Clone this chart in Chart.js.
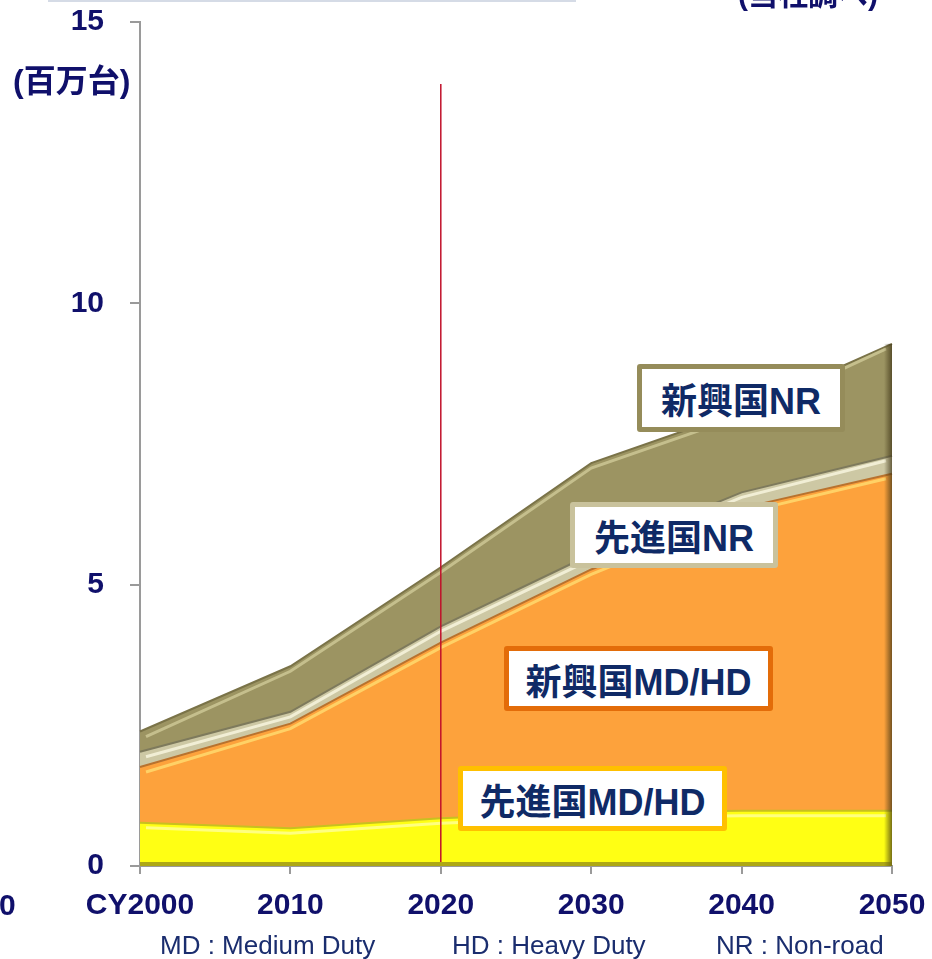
<!DOCTYPE html>
<html>
<head>
<meta charset="utf-8">
<script src="https://cdn.jsdelivr.net/npm/chart.js@4.4.1/dist/chart.umd.min.js"></script>
<style>
  html, body { margin: 0; padding: 0; background: #fff; }
  #wrap { position: relative; width: 932px; height: 959px; overflow: hidden; }
  #chart { position: absolute; left: 0; top: 0; }
  .txt { position: absolute; white-space: nowrap; font-family: "Liberation Sans", "Noto Sans CJK JP", sans-serif; }
  .box {
    position: absolute; box-sizing: border-box; background: #fff;
    border: 5px solid; border-radius: 3px;
    display: flex; align-items: center; justify-content: center;
    font: bold 36px "Liberation Sans", "Noto Sans CJK JP", sans-serif; color: #0f2a66;
  }
</style>
</head>
<body>
<div id="wrap">
  <canvas id="chart" width="932" height="959"></canvas>

  <div class="txt" style="left:48px;top:0;width:528px;height:2px;background:#d5dbe6;"></div>
  <div class="txt" style="left:738px;top:-20px;font-weight:bold;font-size:30px;line-height:30px;color:#10106b;">(当社調べ)</div>
  <div class="txt" style="left:13px;top:63px;font-weight:bold;font-size:32px;line-height:36px;color:#10106b;">(百万台)</div>
  <div class="txt" style="left:-1px;top:888px;font-weight:bold;font-size:30px;line-height:34px;color:#10106b;">0</div>

  <div class="box" style="left:637px;top:364px;width:208px;height:68px;border-color:#958c5a;">新興国NR</div>
  <div class="box" style="left:570px;top:502px;width:208px;height:66px;border-color:#c9c29c;">先進国NR</div>
  <div class="box" style="left:504px;top:646px;width:269px;height:65px;border-color:#e36c09;">新興国MD/HD</div>
  <div class="box" style="left:458px;top:766px;width:269px;height:65px;border-color:#ffc000;">先進国MD/HD</div>

  <div class="txt" style="left:160px;top:929px;font-size:26px;line-height:32px;color:#1a2d6e;">MD : Medium Duty</div>
  <div class="txt" style="left:452px;top:929px;font-size:26px;line-height:32px;color:#1a2d6e;">HD : Heavy Duty</div>
  <div class="txt" style="left:716px;top:929px;font-size:26px;line-height:32px;color:#1a2d6e;">NR : Non-road</div>
</div>

<script>
// 年と各区分の台数(百万台)
const years = ["CY2000", "2010", "2020", "2030", "2040", "2050"];
const senshinMdHd = [0.77, 0.67, 0.85, 0.95, 0.98, 0.98];
const shinkoMdHd = [0.99, 1.86, 3.12, 4.32, 5.38, 5.99];
const senshinNr = [0.27, 0.21, 0.29, 0.27, 0.28, 0.32];
const shinkoNr = [0.36, 0.81, 1.05, 1.62, 1.45, 1.99];
const yTicks = [0, 5, 10, 15];

// 2020年の縦線
const markerYear = "2020";
const markerTop = 13.9;

const tickFont = { family: "'Liberation Sans', Arial, sans-serif", size: 30, weight: "bold" };
const axisColor = "#9a9a9a";

// 縦線を描くプラグイン
const markerLine = {
  id: "markerLine",
  afterDatasetsDraw(chart) {
    const { ctx, scales } = chart;
    const x = scales.x.getPixelForValue(years.indexOf(markerYear));
    ctx.save();
    ctx.strokeStyle = "#c0102a";
    ctx.lineWidth = 1.5;
    ctx.beginPath();
    ctx.moveTo(x, scales.y.getPixelForValue(markerTop));
    ctx.lineTo(x, scales.y.getPixelForValue(0) - 4);
    ctx.stroke();
    ctx.restore();
  },
};

// 面の立体感(ハイライトと右端の影)
const bevel = {
  id: "bevel",
  afterDatasetsDraw(chart) {
    const { ctx, chartArea } = chart;
    ctx.save();
    ctx.beginPath();
    ctx.rect(chartArea.left, chartArea.top, chartArea.right - chartArea.left, chartArea.bottom - chartArea.top);
    ctx.clip();
    chart.data.datasets.forEach((ds, i) => {
      const pts = chart.getDatasetMeta(i).data;
      ctx.strokeStyle = ds.highlight;
      ctx.lineWidth = 3;
      ctx.beginPath();
      pts.forEach((p, k) => {
        const y = p.y + 5;
        k === 0 ? ctx.moveTo(p.x + 6, y) : ctx.lineTo(k === pts.length - 1 ? p.x - 6 : p.x, y);
      });
      ctx.stroke();
    });
    const metaTop = chart.getDatasetMeta(chart.data.datasets.length - 1).data;
    const last = metaTop[metaTop.length - 1];
    const g = ctx.createLinearGradient(chartArea.right - 8, 0, chartArea.right, 0);
    g.addColorStop(0, "rgba(60,50,20,0)");
    g.addColorStop(1, "rgba(60,50,20,0.7)");
    ctx.fillStyle = g;
    ctx.fillRect(chartArea.right - 8, last.y, 8, chartArea.bottom - last.y);
    ctx.fillStyle = "rgba(120,110,20,0.6)";
    ctx.fillRect(chartArea.left, chartArea.bottom - 4, chartArea.right - chartArea.left, 4);
    ctx.restore();
  },
};

new Chart(document.getElementById("chart").getContext("2d"), {
  type: "line",
  data: {
    labels: years,
    datasets: [
      { label: "先進国MD/HD", data: senshinMdHd, fill: "origin", backgroundColor: "#ffff14", borderColor: "#c8c020", highlight: "rgba(255,255,200,0.6)" },
      { label: "新興国MD/HD", data: shinkoMdHd, fill: "-1", backgroundColor: "#fda23c", borderColor: "#b8722e", highlight: "rgba(255,230,120,0.7)" },
      { label: "先進国NR", data: senshinNr, fill: "-1", backgroundColor: "#cdc8a4", borderColor: "#7e7a5c", highlight: "rgba(250,248,225,0.8)" },
      { label: "新興国NR", data: shinkoNr, fill: "-1", backgroundColor: "#9c9462", borderColor: "#7a7348", highlight: "rgba(225,220,170,0.6)" },
    ],
  },
  options: {
    responsive: false,
    animation: false,
    layout: { padding: { top: 22, right: 40, left: 0, bottom: 0 } },
    elements: { point: { radius: 0 }, line: { tension: 0, borderWidth: 2 } },
    plugins: { legend: { display: false }, tooltip: { enabled: false } },
    scales: {
      x: {
        offset: false,
        grid: { display: true, drawOnChartArea: false, color: axisColor, lineWidth: 2, tickLength: 8 },
        border: { color: axisColor, width: 2 },
        ticks: { color: "#10106b", font: tickFont, padding: 14, maxRotation: 0, autoSkip: false },
        afterFit: (s) => { s.height = 93; s.paddingLeft = 0; s.paddingRight = 0; },
      },
      y: {
        stacked: true,
        min: 0,
        max: 15,
        afterBuildTicks: (s) => { s.ticks = yTicks.map((v) => ({ value: v })); },
        grid: { display: true, drawOnChartArea: false, color: axisColor, lineWidth: 2, tickLength: 10 },
        border: { color: axisColor, width: 2 },
        ticks: { color: "#10106b", font: tickFont, padding: 26 },
        afterFit: (s) => { s.width = 140; s.paddingTop = 0; s.paddingBottom = 0; },
      },
    },
  },
  plugins: [bevel, markerLine],
});
</script>
</body>
</html>
